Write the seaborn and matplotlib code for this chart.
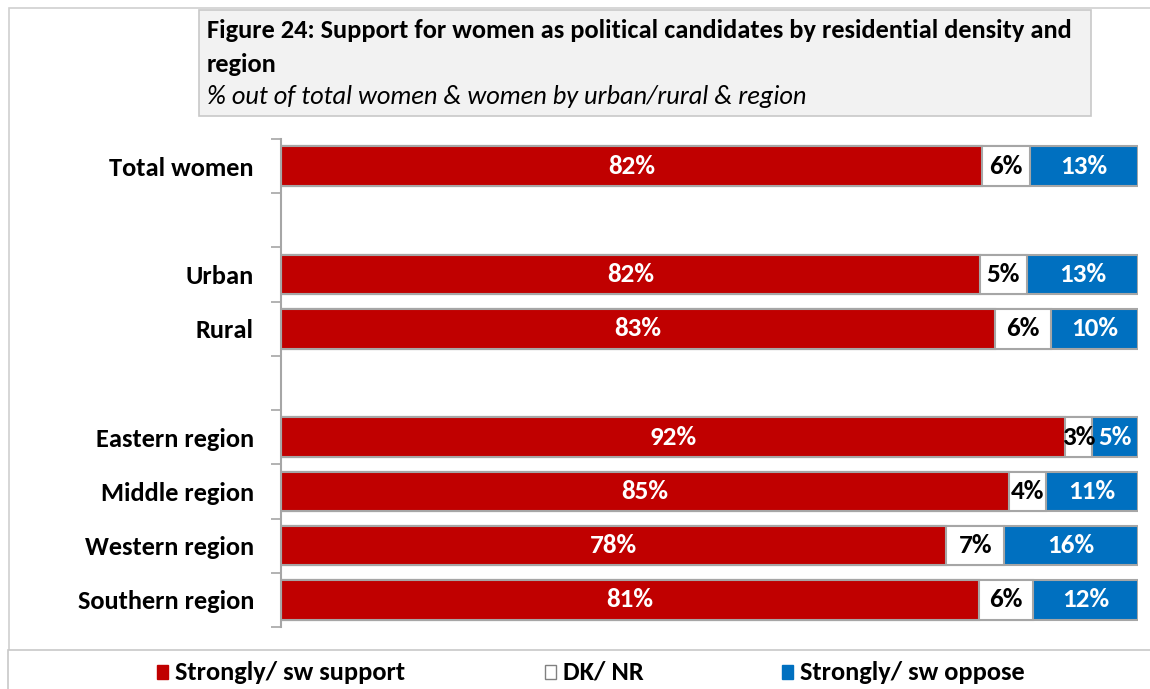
import matplotlib
matplotlib.use("Agg")
import matplotlib.pyplot as plt
from matplotlib.patches import Rectangle
from matplotlib.ticker import FixedLocator
import seaborn as sns
import pandas as pd

# values
groups = ["Total women", "Urban", "Rural", "Eastern region", "Middle region",
          "Western region", "Southern region"]
# printed labels (%)
support = [82, 82, 83, 92, 85, 78, 81]
dknr = [6, 5, 6, 3, 4, 7, 6]
oppose = [13, 13, 10, 5, 11, 16, 12]
# segment lengths as measured on the bars (% of bar)
support_len = [81.8, 81.6, 83.3, 91.5, 84.9, 77.6, 81.5]
dknr_len = [5.6, 5.4, 6.5, 3.1, 4.4, 6.8, 6.2]
oppose_len = [12.6, 13.0, 10.2, 5.4, 10.7, 15.6, 12.3]
series = ["Strongly/ sw support", "DK/ NR", "Strongly/ sw oppose"]

# blank slots between the blocks
order = ["Total women", " ", "Urban", "Rural", "  ", "Eastern region",
         "Middle region", "Western region", "Southern region"]

sns.set_style("white")
plt.rcParams["font.family"] = ["Carlito", "DejaVu Sans"]
plt.rcParams["text.color"] = "black"
plt.rcParams["ytick.labelcolor"] = "black"

df = pd.DataFrame({"group": groups, "support": support, "dknr": dknr, "oppose": oppose})
tot = pd.Series(support_len) + pd.Series(dknr_len) + pd.Series(oppose_len)
df["s1"] = pd.Series(support_len) / tot
df["s2"] = (pd.Series(support_len) + pd.Series(dknr_len)) / tot
df["s3"] = 1.0

red = "#c00000"
blue = "#0070c0"
edge = "#a6a6a6"

fig = plt.figure(figsize=(11.5, 6.89), dpi=100)
ax = fig.add_axes([281 / 1150, 1 - 627 / 689, (1138 - 281) / 1150, (627 - 139) / 689])

for col, colour in [("s3", blue), ("s2", "white"), ("s1", red)]:
    sns.barplot(data=df, y="group", x=col, order=order, color=colour, width=0.73,
                edgecolor=edge, linewidth=1.5, saturation=1, ax=ax, orient="h")

# segment labels
pos = {g: i for i, g in enumerate(order)}
for _, r in df.iterrows():
    y = pos[r["group"]]
    ax.text(r["s1"] / 2, y, f"{r['support']}%", ha="center", va="center",
            color="white", fontsize=19.5, fontweight="bold")
    ax.text((r["s1"] + r["s2"]) / 2, y, f"{r['dknr']}%", ha="center", va="center",
            color="black", fontsize=19.5, fontweight="bold")
    ax.text((r["s2"] + 1) / 2, y, f"{r['oppose']}%", ha="center", va="center",
            color="white", fontsize=19.5, fontweight="bold")

ax.set_xlim(0, 1.0)
ax.set_ylim(len(order) - 0.5, -0.5)
ax.set_xlabel("")
ax.set_ylabel("")
ax.set_xticks([])
ax.set_yticklabels(order, fontsize=19, fontweight="bold", color="black")
ax.tick_params(axis="y", length=0, pad=19.5)
ax.yaxis.set_minor_locator(FixedLocator([i - 0.5 for i in range(len(order) + 1)]))
ax.tick_params(axis="y", which="minor", length=7, width=1.2, color="#a6a6a6", left=True)
for s in ["top", "right", "bottom"]:
    ax.spines[s].set_visible(False)
ax.spines["left"].set_color("#a6a6a6")
ax.spines["left"].set_linewidth(1.5)

# outer frame
fig.patches.append(Rectangle((9 / 1150, -0.01), 1.0, 1 - 8 / 689 + 0.01, transform=fig.transFigure,
                             fill=False, edgecolor="#d0d0d0", linewidth=1.2))

# title box
fig.patches.append(Rectangle((199 / 1150, 1 - 116 / 689), (1091 - 199) / 1150, (116 - 10) / 689,
                             transform=fig.transFigure, facecolor="#f2f2f2",
                             edgecolor="#c8c8c8", linewidth=1.2))
fig.text(207 / 1150, 1 - 31 / 689, "Figure 24: Support for women as political candidates by residential density and",
         fontsize=19, fontweight="bold", va="center", ha="left")
fig.text(207 / 1150, 1 - 64 / 689, "region", fontsize=19, fontweight="bold", va="center", ha="left")
fig.text(207 / 1150, 1 - 97 / 689, "% out of total women & women by urban/rural & region",
         fontsize=19, fontstyle="italic", va="center", ha="left")

# legend box
fig.patches.append(Rectangle((8 / 1150, -0.02), 1.0, (689 - 650) / 689 + 0.02, transform=fig.transFigure,
                             facecolor="white", edgecolor="#c8c8c8", linewidth=1.2))
leg_x = [157, 545, 782]
for (lx, name, colour) in zip(leg_x, series, [red, "white", blue]):
    fig.patches.append(Rectangle((lx / 1150, 1 - 679 / 689), 11 / 1150, 14 / 689,
                                 transform=fig.transFigure, facecolor=colour,
                                 edgecolor="#808080" if colour == "white" else colour, linewidth=1))
    fig.text((lx + 18) / 1150, 1 - 672 / 689, name, fontsize=19, fontweight="bold",
             va="center", ha="left")

fig.savefig("out.png", dpi=100)
